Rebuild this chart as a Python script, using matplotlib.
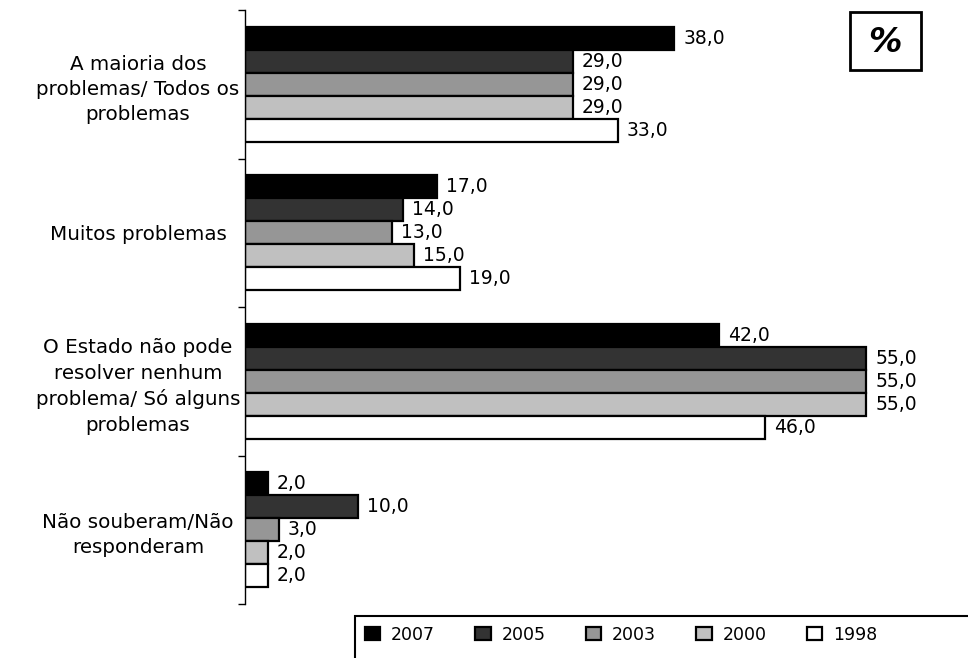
import matplotlib
matplotlib.use("Agg")
import matplotlib.pyplot as plt
from matplotlib.patches import Rectangle
import numpy as np

categories = [
    "A maioria dos\nproblemas/ Todos os\nproblemas",
    "Muitos problemas",
    "O Estado não pode\nresolver nenhum\nproblema/ Só alguns\nproblemas",
    "Não souberam/Não\nresponderam",
]
years = ["2007", "2005", "2003", "2000", "1998"]
values = {
    "2007": [38.0, 17.0, 42.0, 2.0],
    "2005": [29.0, 14.0, 55.0, 10.0],
    "2003": [29.0, 13.0, 55.0, 3.0],
    "2000": [29.0, 15.0, 55.0, 2.0],
    "1998": [33.0, 19.0, 46.0, 2.0],
}
colors = ["#000000", "#333333", "#969696", "#c0c0c0", "#ffffff"]

W, H = 968, 658
fig = plt.figure(figsize=(W / 100, H / 100), dpi=100)
ax = fig.add_axes([245 / W, 1 - 604 / H, 1 - 245 / W, 594 / H])

n = len(categories)
bar_h = 0.155
centers = np.arange(n)
for i, (yr, col) in enumerate(zip(years, colors)):
    ys = centers + (i - 2) * bar_h
    vals = values[yr]
    ax.barh(ys, vals, height=bar_h, color=col, edgecolor="black", linewidth=1.6, label=yr)
    for y, v in zip(ys, vals):
        ax.text(v + 0.8, y, f"{v:.1f}".replace(".", ","), va="center", ha="left", fontsize=13.5)

ax.set_xlim(0, 64)
ax.set_ylim(n - 0.5, -0.5)
ax.set_xticks([])
ax.set_yticks(centers)
ax.set_yticklabels(categories, fontsize=14.3, ha="center", linespacing=1.42)
ax.tick_params(axis="y", which="major", length=0, pad=77)
ax.set_yticks(np.arange(-0.5, n, 1), minor=True)
ax.tick_params(axis="y", which="minor", length=5, width=1)
for s in ["top", "right", "bottom"]:
    ax.spines[s].set_visible(False)
ax.spines["left"].set_linewidth(1)

# "%" box
fig.patches.append(Rectangle((850 / W, 1 - 70 / H), 71 / W, 58 / H, transform=fig.transFigure,
                             facecolor="white", edgecolor="black", linewidth=2))
fig.text(885 / W, 1 - 43 / H, "%", fontsize=24, ha="center", va="center",
         style="italic", fontweight="bold")

# legend frame runs past the figure edge
fig.patches.append(Rectangle((355 / W, -0.05), 700 / W, 0.05 + 42 / H, transform=fig.transFigure,
                             facecolor="white", edgecolor="black", linewidth=1.5, clip_on=False))
leg = fig.legend(loc="upper left", bbox_to_anchor=(357 / W, 1 - 618 / H), ncol=5,
                 fontsize=12.5, frameon=False,
                 handlelength=0.9, handleheight=0.8, handletextpad=0.6,
                 columnspacing=2.33, borderpad=0.45, borderaxespad=0)

fig.savefig("out.png", dpi=100)
